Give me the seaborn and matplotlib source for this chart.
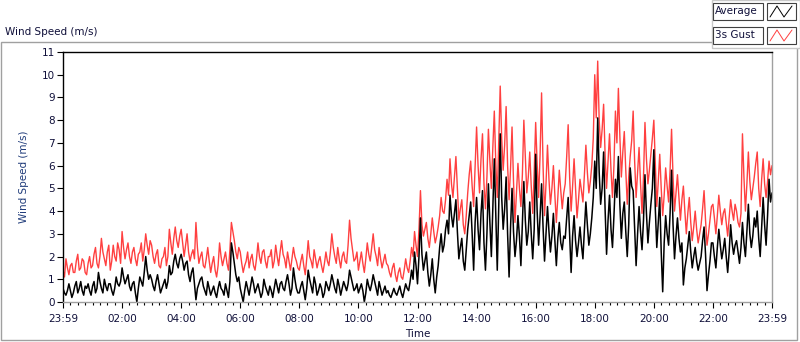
import numpy as np
import pandas as pd
import matplotlib
matplotlib.use("Agg")
import matplotlib.pyplot as plt
from matplotlib.patches import Rectangle
from matplotlib.lines import Line2D
from matplotlib.ticker import MultipleLocator, FixedLocator
import seaborn as sns

# one reading every 3 minutes, 23:59 -> 23:59 (one row per hour)
gust = [
    1.4, 1.1, 1.9, 1.5, 1.2, 1.6, 1.7, 1.3, 1.3, 1.8, 2.1, 1.4, 1.5, 1.9, 1.8, 1.3, 1.2, 1.7, 2.0, 1.5,
    1.6, 2.1, 2.4, 1.7, 1.5, 2.0, 2.8, 2.2, 1.9, 1.6, 2.2, 2.5, 1.4, 1.8, 2.5, 2.0, 1.8, 2.6, 2.3, 1.7,
    3.1, 2.4, 1.9, 2.3, 2.6, 2.0, 1.7, 2.2, 2.4, 1.9, 1.6, 2.1, 2.2, 2.6, 1.8, 2.3, 3.0, 2.5, 2.1, 2.7,
    2.5, 2.0, 1.7, 2.1, 2.3, 1.6, 1.5, 1.9, 2.0, 2.4, 1.6, 2.0, 3.2, 2.6, 2.1, 2.8, 3.3, 2.7, 2.4, 2.9,
    3.2, 2.6, 2.0, 2.5, 3.0, 2.2, 1.8, 2.1, 2.3, 1.9, 3.5, 2.4, 1.7, 2.0, 2.2, 1.6, 1.5, 1.9, 2.4, 1.8,
    1.3, 1.7, 2.0, 1.4, 1.1, 1.6, 2.6, 2.0, 1.6, 1.9, 2.2, 1.7, 1.4, 2.3, 3.5, 3.1, 2.7, 2.2, 1.9, 2.4,
    2.2, 1.7, 1.3, 1.6, 1.8, 2.2, 1.5, 1.9, 2.1, 1.6, 1.4, 1.9, 2.6, 2.0, 1.7, 2.2, 2.3, 1.8, 1.5, 2.0,
    2.0, 2.3, 1.5, 1.8, 2.5, 2.0, 1.6, 2.2, 2.7, 2.1, 1.9, 1.5, 2.2, 1.8, 1.4, 1.9, 2.4, 2.0, 1.8, 1.5,
    1.4, 1.8, 2.1, 1.6, 1.2, 1.9, 2.7, 2.0, 1.8, 1.5, 2.3, 1.9, 1.5, 1.8, 2.0, 1.6, 1.3, 1.7, 2.2, 1.8,
    1.6, 2.2, 3.0, 2.4, 2.0, 1.7, 2.4, 1.9, 1.5, 2.0, 2.2, 1.8, 1.7, 2.5, 3.6, 2.8, 2.3, 1.8, 1.9, 2.2,
    1.4, 1.8, 2.2, 1.7, 1.3, 1.9, 2.6, 2.1, 1.8, 2.4, 3.0, 2.3, 2.0, 1.6, 2.4, 1.9, 1.5, 1.8, 2.1, 1.7,
    1.6, 1.3, 1.1, 1.5, 1.7, 1.2, 0.9, 1.3, 1.5, 1.1, 1.0, 1.4, 1.9, 1.5, 1.3, 1.8, 2.4, 2.0, 3.1, 2.5,
    2.0, 3.2, 4.9, 3.4, 2.9, 3.2, 3.5, 2.8, 2.4, 3.0, 3.7, 3.1, 2.6, 2.9, 3.3, 3.8, 4.6, 4.0, 3.9, 4.5,
    5.4, 4.7, 6.3, 5.2, 4.6, 5.5, 6.4, 5.0, 3.6, 4.1, 4.5, 3.4, 3.0, 3.8, 4.8, 5.6, 6.2, 5.1, 4.2, 5.9,
    7.7, 6.0, 4.8, 6.3, 7.4, 5.2, 4.1, 5.5, 7.6, 6.2, 5.0, 6.8, 8.4, 6.1, 4.6, 7.0, 9.5, 7.2, 5.8, 6.9,
    8.6, 6.0, 4.5, 5.9, 7.7, 5.3, 3.5, 4.8, 6.1, 5.0, 4.2, 5.6, 8.0, 6.4, 4.8, 5.5, 6.6, 5.1, 3.9, 5.7,
    7.9, 6.1, 4.6, 6.5, 9.2, 6.0, 3.8, 5.2, 6.9, 5.4, 4.3, 5.0, 6.0, 4.7, 3.5, 4.6, 5.8, 4.9, 4.1, 4.8,
    5.2, 6.4, 7.8, 5.5, 4.0, 5.1, 6.3, 5.0, 3.7, 4.5, 5.4, 4.9, 4.4, 5.6, 6.9, 5.7, 4.8, 5.3, 6.0, 7.2,
    10.0, 8.1, 10.6, 8.0, 6.8, 7.6, 8.7, 6.5, 5.0, 6.2, 7.4, 5.8, 4.6, 6.0, 8.4, 7.0, 9.4, 7.3, 5.5, 6.6,
    7.5, 5.8, 4.3, 5.5, 6.4, 7.1, 8.4, 6.2, 4.6, 5.7, 6.8, 5.2, 3.9, 5.5, 7.9, 6.3, 5.2, 5.8, 6.5, 7.2,
    8.0, 6.1, 4.2, 5.3, 6.5, 5.0, 3.8, 4.7, 5.9, 5.1, 4.4, 5.8, 7.6, 5.5, 4.0, 4.8, 5.6, 4.6, 3.6, 4.5,
    5.1, 4.0, 3.0, 3.9, 4.6, 3.5, 2.7, 3.3, 4.0, 3.2, 2.6, 3.0, 3.4, 4.1, 4.9, 3.6, 2.5, 3.0, 3.6, 4.2,
    4.3, 3.7, 3.0, 3.8, 4.7, 4.0, 3.4, 3.9, 4.1, 3.5, 2.9, 3.7, 4.5, 4.0, 3.6, 4.3, 4.0, 3.5, 3.3, 3.9,
    7.4, 5.5, 4.0, 5.2, 6.6, 5.3, 4.5, 5.0, 5.5, 6.1, 6.6, 5.0, 4.2, 5.4, 6.3, 5.2, 4.6, 5.3, 6.2, 5.6,
    6.0,
]
average = [
    0.6, 0.4, 0.3, 0.5, 0.8, 0.5, 0.2, 0.4, 0.7, 0.9, 0.4, 0.6, 0.9, 0.5, 0.3, 0.7, 0.6, 0.8, 0.5, 0.3,
    0.7, 0.9, 0.4, 0.6, 1.3, 0.9, 0.6, 0.4, 1.0, 0.7, 0.5, 0.8, 0.8, 0.5, 0.3, 0.6, 1.1, 0.8, 0.7, 0.9,
    1.5, 1.1, 0.8, 1.0, 1.2, 0.7, 0.5, 0.8, 0.9, 0.4, 0.0, 0.6, 1.1, 0.9, 0.7, 1.3, 2.0, 1.4, 1.0, 1.2,
    1.0, 0.7, 0.5, 0.9, 1.2, 0.8, 0.4, 0.6, 0.8, 1.0, 0.6, 0.9, 1.6, 1.2, 1.3, 1.8, 2.1, 1.7, 1.5, 1.9,
    2.1, 1.8, 1.4, 1.7, 1.8, 1.2, 0.9, 1.3, 1.5, 0.8, 0.1, 0.6, 0.8, 1.0, 1.1, 0.7, 0.5, 0.3, 0.9, 0.6,
    0.3, 0.5, 0.7, 0.4, 0.2, 0.6, 0.9, 0.6, 0.5, 0.3, 0.8, 0.5, 0.2, 0.9, 2.6, 2.2, 1.7, 1.2, 0.9, 1.1,
    0.6, 0.3, 0.0, 0.5, 0.9, 0.6, 0.3, 0.7, 1.1, 0.8, 0.4, 0.6, 0.8, 0.5, 0.2, 0.4, 1.0, 0.7, 0.5, 0.3,
    0.7, 0.5, 0.2, 0.6, 1.0, 0.7, 0.4, 0.8, 0.9, 0.6, 0.5, 0.9, 1.2, 0.8, 0.3, 0.6, 1.5, 1.0, 0.6, 0.4,
    0.4, 0.7, 0.9, 0.5, 0.1, 0.6, 1.4, 1.0, 0.7, 0.4, 1.1, 0.8, 0.3, 0.5, 0.8, 0.6, 0.2, 0.4, 0.9, 0.7,
    0.5, 0.8, 1.2, 0.9, 0.6, 0.4, 1.0, 0.7, 0.3, 0.6, 0.9, 0.7, 0.5, 0.8, 1.4, 1.1, 0.8, 0.5, 0.6, 0.8,
    0.4, 0.6, 0.8, 0.5, 0.0, 0.4, 1.0, 0.7, 0.5, 0.8, 1.2, 0.9, 0.6, 0.3, 0.9, 0.6, 0.3, 0.5, 0.7, 0.4,
    0.5, 0.3, 0.2, 0.4, 0.6, 0.4, 0.3, 0.5, 0.7, 0.4, 0.2, 0.5, 0.8, 0.6, 0.5, 0.9, 1.4, 1.0, 2.2, 1.6,
    0.8, 2.0, 3.7, 2.1, 1.4, 1.8, 2.2, 1.3, 0.7, 1.2, 1.9, 1.0, 0.4, 1.1, 1.6, 2.4, 3.0, 2.2, 2.5, 3.2,
    3.6, 3.0, 4.7, 3.8, 3.3, 3.9, 4.5, 3.1, 1.9, 2.4, 2.8, 1.8, 1.4, 2.3, 3.2, 3.8, 4.4, 3.0, 1.4, 3.5,
    4.6, 3.2, 2.3, 3.9, 4.9, 2.6, 1.4, 3.0, 5.2, 3.5, 2.0, 4.1, 6.3, 3.8, 1.4, 4.2, 7.4, 4.6, 3.2, 4.1,
    5.5, 3.0, 1.1, 3.3, 5.0, 3.1, 2.0, 2.7, 3.8, 2.9, 1.6, 3.4, 5.3, 3.6, 2.5, 3.1, 4.4, 3.0, 1.9, 3.2,
    6.5, 4.0, 2.5, 3.8, 5.2, 3.3, 1.8, 3.0, 4.2, 3.1, 2.2, 2.9, 3.9, 2.7, 1.6, 2.8, 3.5, 2.6, 2.3, 2.9,
    2.8, 3.7, 4.6, 3.0, 1.3, 2.9, 3.8, 2.7, 2.0, 2.6, 3.3, 2.5, 1.9, 3.2, 4.4, 3.4, 2.5, 3.0, 3.7, 4.6,
    6.2, 5.0, 8.1, 5.7, 4.3, 5.0, 6.6, 4.1, 2.1, 3.6, 4.7, 3.2, 2.4, 3.8, 5.4, 4.6, 6.4, 4.3, 2.8, 3.9,
    4.4, 3.1, 2.0, 3.4, 5.9, 5.1, 4.9, 3.3, 1.6, 3.0, 4.2, 3.1, 2.3, 3.6, 5.6, 3.9, 2.6, 3.5, 4.3, 5.0,
    6.7, 4.1, 2.4, 3.5, 4.6, 2.2, 0.45, 2.6, 3.8, 3.0, 2.5, 3.9, 5.8, 3.4, 1.9, 2.9, 3.7, 2.8, 2.2, 2.6,
    0.75, 1.5, 1.9, 2.5, 3.1, 2.2, 1.5, 2.0, 2.4, 1.8, 1.4, 1.7, 2.0, 2.7, 3.3, 2.1, 0.5, 1.2, 1.8, 2.6,
    2.6, 2.0, 1.5, 2.4, 3.2, 2.5, 1.9, 2.3, 2.8, 2.0, 1.3, 2.2, 3.4, 2.6, 2.1, 2.5, 2.7, 2.2, 1.7, 2.4,
    3.5, 2.6, 2.0, 3.1, 4.3, 3.0, 2.4, 2.9, 3.7, 3.3, 4.0, 2.8, 2.0, 3.3, 4.6, 3.4, 2.5, 3.8, 5.4, 4.4,
    4.8,
]
assert len(gust) == len(average) == 481
minutes = np.arange(len(gust)) * 3
tick_labels = ["23:59", "02:00", "04:00", "06:00", "08:00", "10:00", "12:00",
               "14:00", "16:00", "18:00", "20:00", "22:00", "23:59"]

df = pd.DataFrame({"t": minutes, "gust": gust, "avg": average})

sns.set_style("white")
plt.rcParams["font.family"] = ["DejaVu Sans"]
txt = "#10103a"
red = "#ff4040"

fig = plt.figure(figsize=(8, 3.42), dpi=100)
ax = fig.add_axes([63 / 800, 40 / 342, 709 / 800, 250 / 342])

# gust underneath, average drawn on top
sns.lineplot(data=df, x="t", y="gust", ax=ax, color=red, lw=1.0)
sns.lineplot(data=df, x="t", y="avg", ax=ax, color="black", lw=1.1)

ax.set_xlim(0, 1440)
ax.set_ylim(0, 11)
ax.xaxis.set_major_locator(FixedLocator(np.arange(0, 1441, 120)))
ax.set_xticklabels(tick_labels)
ax.xaxis.set_minor_locator(MultipleLocator(15))
ax.yaxis.set_major_locator(MultipleLocator(1))
ax.tick_params(axis="both", which="major", direction="out", length=4,
               width=0.8, colors="black", labelsize=7.5, labelcolor=txt, pad=2)
ax.tick_params(axis="x", which="major", pad=5)
ax.tick_params(axis="x", which="minor", direction="out", length=2.5,
               width=0.8, colors="black", bottom=True)
ax.tick_params(axis="x", which="major", bottom=True)
ax.tick_params(axis="y", which="major", left=True)

for side in ["top", "left"]:
    ax.spines[side].set_color("black")
    ax.spines[side].set_linewidth(1)
for side in ["bottom", "right"]:
    ax.spines[side].set_color("#a0a0a0")
    ax.spines[side].set_linewidth(1)

ax.set_xlabel("Time", fontsize=7.5, color=txt, labelpad=3)
ax.set_ylabel("Wind Speed (m/s)", fontsize=7.5, color="#1f3b7a", labelpad=9)

# outer panel frame
fig.add_artist(Rectangle((1 / 800, 2 / 342), 796 / 800, 298 / 342,
                         transform=fig.transFigure, fill=False,
                         edgecolor="#a0a0a0", lw=1))
fig.text(5 / 800, 1 - 32 / 342, "Wind Speed (m/s)", fontsize=7.5,
         color=txt, va="center", ha="left")

# legend panel
fig.add_artist(Rectangle((712 / 800, 1 - 48 / 342), 88 / 800, 48 / 342,
                         transform=fig.transFigure, facecolor="white",
                         edgecolor="#c8c8c8", lw=1))
for i, (name, col) in enumerate([("Average", "black"), ("3s Gust", red)]):
    top = 3 + i * 24
    fig.add_artist(Rectangle((713 / 800, 1 - (top + 17) / 342), 50 / 800, 17 / 342,
                             transform=fig.transFigure, facecolor="white",
                             edgecolor="#404040", lw=0.8))
    fig.text(715 / 800, 1 - (top + 8.5) / 342, name, fontsize=7.5, color=txt,
             va="center", ha="left")
    fig.add_artist(Rectangle((767 / 800, 1 - (top + 17) / 342), 29 / 800, 17 / 342,
                             transform=fig.transFigure, facecolor="white",
                             edgecolor="#404040", lw=0.8))
    zx = np.array([770, 777, 784, 792]) / 800
    zy = 1 - (top + np.array([14, 3, 14, 3])) / 342
    fig.add_artist(Line2D(zx, zy, transform=fig.transFigure, color=col, lw=0.7))

fig.savefig("out.png", dpi=100)
